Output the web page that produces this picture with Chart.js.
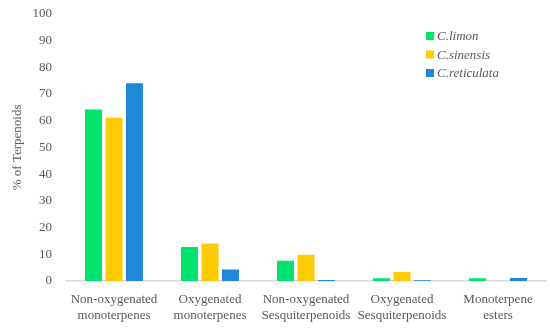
<!DOCTYPE html>
<html>
<head>
<meta charset="utf-8">
<script src="https://cdn.jsdelivr.net/npm/chart.js@4"></script>
<style>
  html, body { margin: 0; padding: 0; background: #fff; }
  #wrap { width: 550px; height: 328px; position: relative; }
</style>
</head>
<body>
<div id="wrap"><canvas id="terpChart"></canvas></div>
<script>
// Terpenoid composition per citrus species (% of terpenoids)
const categories = [
  ["Non-oxygenated", "monoterpenes"],
  ["Oxygenated", "monoterpenes"],
  ["Non-oxygenated", "Sesquiterpenoids"],
  ["Oxygenated", "Sesquiterpenoids"],
  ["Monoterpene", "esters"]
];
const limonData = [64.2, 12.7, 7.6, 1.0, 1.0];
const sinensisData = [61.1, 14.0, 9.8, 3.4, 0];
const reticulataData = [74.0, 4.3, 0.4, 0.3, 1.1];
const seriesNames = ["C.limon", "C.sinensis", "C.reticulata"];
const seriesColors = ["#00e36c", "#ffcb05", "#1f88d9"];

const serif = "'Liberation Serif', 'DejaVu Serif', serif";
const tickColor = '#595959';

// legend drawn inside the plot area, top right
const insideLegend = {
  id: 'insideLegend',
  afterDraw(chart) {
    const ctx = chart.ctx;
    ctx.save();
    ctx.font = 'italic 13px ' + serif;
    ctx.textBaseline = 'middle';
    seriesNames.forEach((name, i) => {
      const y = 36 + i * 18.5;
      ctx.fillStyle = seriesColors[i];
      ctx.fillRect(426, y - 4, 8, 8);
      ctx.fillStyle = tickColor;
      ctx.fillText(name, 437, y + 1);
    });
    ctx.restore();
  }
};

const ctx = document.getElementById('terpChart').getContext('2d');
const terpChart = new Chart(ctx, {
  type: 'bar',
  data: {
    labels: categories,
    datasets: seriesNames.map((name, i) => ({
      label: name,
      data: [limonData, sinensisData, reticulataData][i],
      backgroundColor: seriesColors[i],
      categoryPercentage: 0.64,
      barPercentage: 0.83
    }))
  },
  options: {
    responsive: true,
    maintainAspectRatio: false,
    animation: false,
    layout: { padding: { top: 10, right: 4, left: 10, bottom: 0 } },
    plugins: {
      legend: { display: false },
      tooltip: { enabled: false }
    },
    scales: {
      x: {
        grid: { display: false },
        border: { color: '#d9d9d9', width: 1.5 },
        ticks: { color: tickColor, font: { family: serif, size: 13, lineHeight: 1.25 }, maxRotation: 0, autoSkip: false, padding: 2 },
        afterFit(scale) { scale.height = 47; }
      },
      y: {
        min: 0,
        max: 100,
        grid: { display: false },
        border: { display: false },
        ticks: { stepSize: 10, color: tickColor, font: { family: serif, size: 13 }, padding: 6 },
        title: { display: true, text: '% of Terpenoids', color: tickColor, font: { family: serif, size: 13 }, padding: 0 },
        afterFit(scale) { scale.width = 56; }
      }
    }
  },
  plugins: [insideLegend]
});
</script>
</body>
</html>
